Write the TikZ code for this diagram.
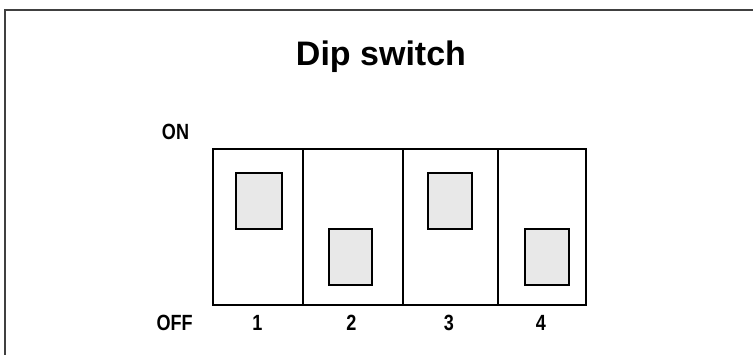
\documentclass[tikz,border=0pt]{standalone}
\usepackage{fontspec}
\setmainfont{Liberation Sans}
\definecolor{framegray}{HTML}{404040}
\definecolor{slidergray}{HTML}{E8E8E8}
\begin{document}
\begin{tikzpicture}[x=1pt,y=-1pt,
  cellbox/.style={draw=black,line width=2pt,inner sep=0pt,minimum height=156pt,anchor=north west},
  slider/.style={draw=black,line width=2pt,fill=slidergray,inner sep=0pt,minimum height=56pt,anchor=north west},
  lbl/.style={font=\fontsize{22}{22}\selectfont\bfseries,anchor=base,inner sep=0pt,xscale=0.82},
  titlelbl/.style={font=\fontsize{34}{36}\selectfont\bfseries,anchor=base,inner sep=0pt}]
\useasboundingbox (0,0) rectangle (753,355);
\fill[white] (0,0) rectangle (753,355);
\coordinate (fbl) at (5,356);
\coordinate (ftl) at (5,10);
\coordinate (ftr) at (754,10);
\draw[framegray,line width=2.4pt] (fbl) -- (ftl) -- (ftr);
\node[titlelbl] (title) at (381,66) {Dip switch};
% cells
\node[cellbox,minimum width=90pt] (c1) at (212,148) {};
\node[cellbox,minimum width=100pt] (c2) at (302,148) {};
\node[cellbox,minimum width=95pt] (c3) at (402,148) {};
\node[cellbox,minimum width=88pt] (c4) at (497,148) {};
% sliders
\node[slider,minimum width=46pt] (s1) at (235,172) {};
\node[slider,minimum width=43pt] (s2) at (328,228) {};
\node[slider,minimum width=44pt] (s3) at (427,172) {};
\node[slider,minimum width=44pt] (s4) at (524,228) {};
% labels
\node[lbl] (on) at (175.5,139.3) {ON};
\node[lbl] (off) at (174.7,331) {OFF};
\node[lbl] (n1) at (257.5,331) {1};
\node[lbl] (n2) at (351.5,331) {2};
\node[lbl] (n3) at (449,331) {3};
\node[lbl] (n4) at (541,331) {4};
\end{tikzpicture}
\end{document}
